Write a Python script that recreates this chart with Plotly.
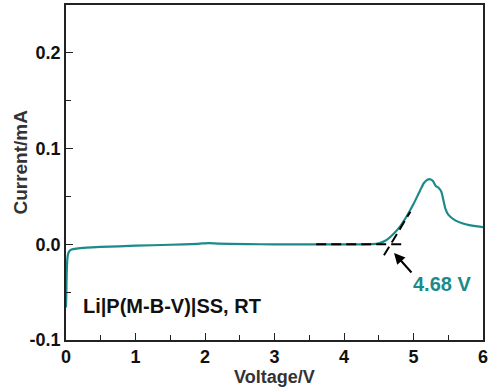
import plotly.graph_objects as go

voltage = [0.00, 0.005, 0.01, 0.02, 0.03, 0.05, 0.08, 0.15, 0.3, 0.5, 1.0, 1.5, 1.9, 2.05, 2.2, 2.6,
           3.0, 3.5, 4.0, 4.4, 4.5, 4.6, 4.7, 4.8, 4.9, 5.0, 5.1, 5.15, 5.2, 5.24, 5.28, 5.32, 5.36,
           5.40, 5.43, 5.46, 5.5, 5.6, 5.7, 5.8, 6.0]
current = [-0.066, -0.05, -0.03, -0.015, -0.010, -0.007, -0.0055, -0.0045, -0.0035, -0.0028,
           -0.0015, -0.0005, 0.0005, 0.0013, 0.0006, 0.0001, 0.0, 0.0, 0.0, 0.0002, 0.001, 0.004,
           0.010, 0.018, 0.029, 0.042, 0.057, 0.064, 0.0675, 0.068, 0.066, 0.061, 0.059,
           0.055, 0.046, 0.037, 0.031, 0.025, 0.022, 0.020, 0.018]

baseline_v = [3.6, 4.86]
baseline_i = [0.0, 0.0]
tangent_v = [4.575, 4.955]
tangent_i = [-0.0115, 0.034]

onset_label = "4.68 V"
sample_label = "Li|P(M-B-V)|SS, RT"

teal = "#1a8a8a"
font_fam = "Liberation Sans, Arial, sans-serif"

fig = go.Figure()
fig.add_trace(go.Scatter(x=voltage, y=current, mode="lines",
                         line=dict(color=teal, width=2.2, shape="spline", smoothing=0.6),
                         showlegend=False))
fig.add_trace(go.Scatter(x=baseline_v, y=baseline_i, mode="lines",
                         line=dict(color="black", width=2, dash="10px,5px"), showlegend=False))
fig.add_trace(go.Scatter(x=tangent_v, y=tangent_i, mode="lines",
                         line=dict(color="black", width=2, dash="10px,5px"), showlegend=False))

axis_common = dict(showline=True, linecolor="#222", linewidth=1.5, mirror=True,
                   ticks="inside", ticklen=7, tickwidth=1, tickcolor="#222",
                   showgrid=False, zeroline=False, ticklabeloverflow="allow",
                   tickfont=dict(family=font_fam, size=18, color="#111", weight="bold"))

fig.update_xaxes(range=[0, 6], tickvals=[0, 1, 2, 3, 4, 5, 6],
                 minor=dict(ticks="inside", ticklen=5, dtick=0.5, tickcolor="#222", showgrid=False),
                 **axis_common)
fig.update_yaxes(range=[-0.1, 0.25], tickvals=[-0.1, 0.0, 0.1, 0.2],
                 ticktext=["-0.1", "0.0", "0.1", "0.2"],
                 minor=dict(ticks="inside", ticklen=5, dtick=0.05, tickcolor="#222", showgrid=False),
                 **axis_common)

fig.add_annotation(x=4.72, y=-0.009, ax=4.99, ay=-0.031, axref="x", ayref="y",
                   xref="x", yref="y", text="", showarrow=True,
                   arrowhead=2, arrowsize=1.1, arrowwidth=2, arrowcolor="black")
fig.add_annotation(x=5.41, y=-0.042, xref="x", yref="y", text=onset_label, showarrow=False,
                   font=dict(family=font_fam, size=20, color=teal, weight="bold"))
fig.add_annotation(x=0.22, y=-0.064, xref="x", yref="y", text=sample_label, showarrow=False,
                   xanchor="left",
                   font=dict(family=font_fam, size=20, color="#111", weight="bold"))

fig.add_annotation(x=0.5, y=-0.075, xref="paper", yref="paper", text="Voltage/V",
                   showarrow=False, yanchor="top",
                   font=dict(family=font_fam, size=18, color="#333", weight="bold"))
fig.add_annotation(x=-0.14, y=0.53, xref="paper", yref="paper", text="Current/mA",
                   showarrow=False, textangle=-90,
                   font=dict(family=font_fam, size=19, color="#333", weight="bold"))

fig.update_layout(width=490, height=390, margin=dict(l=66, r=2, t=5, b=50),
                  plot_bgcolor="white", paper_bgcolor="white")

fig.write_html("out.html", config={"displayModeBar": False},
               post_script="document.body.style.margin='0';")
